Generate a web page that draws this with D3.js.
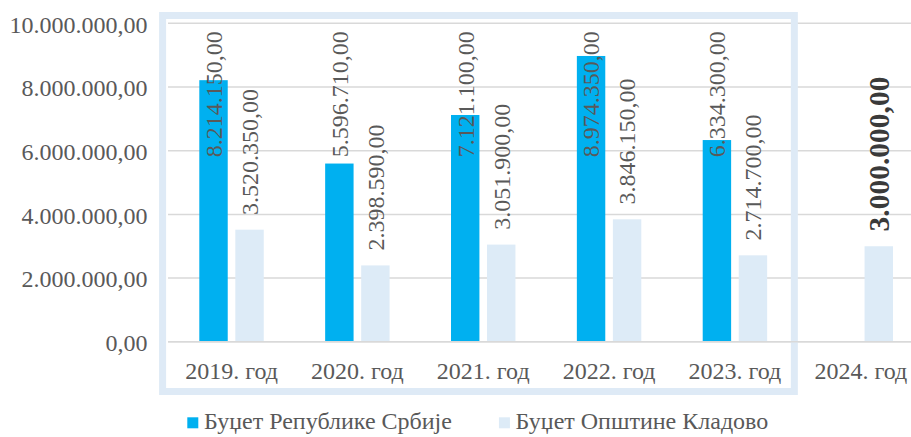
<!DOCTYPE html>
<html>
<head>
<meta charset="utf-8">
<script src="https://cdn.jsdelivr.net/npm/d3@7/dist/d3.min.js"></script>
<style>
  html, body { margin: 0; padding: 0; background: #fff; }
  svg { display: block; }
</style>
</head>
<body>
<svg id="chart" width="911" height="437" style="font-family: 'Liberation Serif', 'Times New Roman', serif"></svg>
<script>
const categories = ["2019. год", "2020. год", "2021. год", "2022. год", "2023. год", "2024. год"];
const seriesNames = ["Буџет Републике Србије", "Буџет Општине Кладово"];
const republicValues = [8214150, 5596710, 7121100, 8974350, 6334300, null];
const municipalityValues = [3520350, 2398590, 3051900, 3846150, 2714700, 3000000];
const yTicks = [0, 2000000, 4000000, 6000000, 8000000, 10000000];
const colors = ["#00B0F0", "#DDEBF7"];

const W = 911, H = 437;
const FONT = "Liberation Serif";
const svg = d3.select("#chart");
const fontSize = 24;
const boldSize = 29.5;
const textColor = "#595959";

const fmt = v => {
  const s = d3.format(",.2f")(v);
  return s.replace(/,/g, "#").replace(".", ",").replace(/#/g, ".");
};

const y = d3.scaleLinear().domain([0, 10000000]).range([341.8, 23.3]);
const x0 = d3.scaleBand().domain(categories).range([168.6, 923.7]).paddingInner(0.488).paddingOuter(0.244);
const x1 = d3.scaleBand().domain([0, 1]).range([0, x0.bandwidth()]).paddingInner(0.211);

// gridlines
svg.append("g").selectAll("line").data(yTicks).join("line")
  .attr("x1", 168).attr("x2", W)
  .attr("y1", d => y(d)).attr("y2", d => y(d))
  .attr("stroke", "#D9D9D9").attr("stroke-width", 1.5);

// frame (outer edge on the boundary between 2023 and 2024)
const boundary = x0(categories[5]) - x0.step() * x0.paddingOuter();
const frameLeft = x0.range()[0] - 6;
const frameRight = boundary - 3.5;
svg.append("rect")
  .attr("x", frameLeft).attr("y", 15.5)
  .attr("width", frameRight - frameLeft).attr("height", 376)
  .attr("fill", "none").attr("stroke", "#DEEAF6").attr("stroke-width", 7);

// y tick labels
svg.append("g").selectAll("text").data(yTicks).join("text")
  .attr("x", 147.5).attr("y", d => y(d)).attr("dy", "0.39em")
  .attr("text-anchor", "end").style("font-family", FONT).attr("font-size", fontSize).attr("fill", textColor)
  .text(d => fmt(d));

// bars
const data = categories.map((c, i) => ({ c, vals: [republicValues[i], municipalityValues[i]] }));
const groups = svg.append("g").selectAll("g").data(data).join("g")
  .attr("transform", d => `translate(${x0(d.c)},0)`);

groups.selectAll("rect").data(d => d.vals.map((v, k) => ({ v, k })).filter(e => e.v != null)).join("rect")
  .attr("x", e => x1(e.k)).attr("width", x1.bandwidth())
  .attr("y", e => y(e.v)).attr("height", e => y(0) - y(e.v))
  .attr("fill", e => colors[e.k]);

// labels (outside end, pushed inside the plot when they would overflow the top)
groups.each(function(d, i) {
  const g = d3.select(this);
  d.vals.forEach((v, k) => {
    if (v == null) return;
    const bold = (i === categories.length - 1);
    const cx = x1(k) + x1.bandwidth() / 2;
    const t = g.append("text")
      .style("font-family", FONT)
      .attr("font-size", bold ? boldSize : fontSize)
      .attr("fill", bold ? "#3A3A3A" : textColor)
      .attr("font-weight", bold ? "bold" : "normal")
      .attr("dy", "0.35em")
      .text(fmt(v));
    const len = t.node().getComputedTextLength();
    const bottom = Math.max(y(v) - 14.8, y(10000000) + 8 + len);
    t.attr("transform", `translate(${cx},${bottom}) rotate(-90)`);
  });
});

// baseline
svg.append("line").attr("x1", 168).attr("x2", W).attr("y1", y(0)).attr("y2", y(0))
  .attr("stroke", "#D9D9D9").attr("stroke-width", 1.5);

// x labels
svg.append("g").selectAll("text").data(categories).join("text")
  .attr("x", d => x0(d) + x0.bandwidth() / 2).attr("y", 378.5)
  .attr("text-anchor", "middle").style("font-family", FONT).attr("font-size", fontSize).attr("fill", textColor)
  .text(d => d);

// legend
let lx = 187.3;
seriesNames.forEach((name, i) => {
  const g = svg.append("g");
  g.append("rect").attr("x", lx).attr("y", 417.3).attr("width", 11).attr("height", 11)
    .attr("fill", colors[i]);
  const t = g.append("text").attr("x", lx + 16.7).attr("y", 429).style("font-family", FONT)
    .attr("font-size", fontSize).attr("fill", textColor).text(name);
  lx = lx + 16.7 + t.node().getComputedTextLength() + 47;
});
</script>
</body>
</html>
